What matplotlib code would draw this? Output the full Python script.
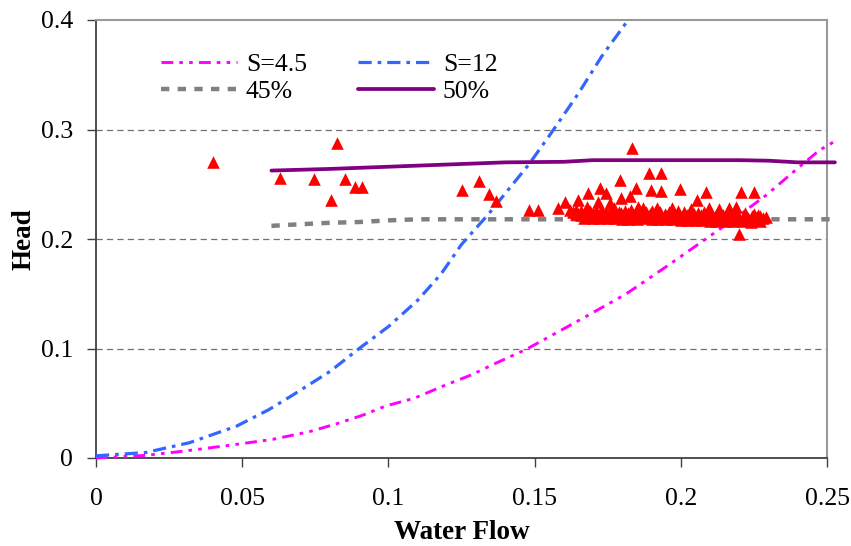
import matplotlib
matplotlib.use("Agg")
import matplotlib.pyplot as plt

plt.rcParams['font.family'] = ['Liberation Serif', 'DejaVu Serif']
plt.rcParams['lines.scale_dashes'] = False

# ---------------- data ----------------
x_ticks = [0, 0.05, 0.1, 0.15, 0.2, 0.25]
x_tick_labels = ['0', '0.05', '0.1', '0.15', '0.2', '0.25']
y_ticks = [0, 0.1, 0.2, 0.3, 0.4]
y_tick_labels = ['0', '0.1', '0.2', '0.3', '0.4']

s45_x = [0.0, 0.017, 0.0285, 0.0376, 0.049, 0.0604, 0.0729, 0.082, 0.0911, 0.0991,
         0.1088, 0.1196, 0.128, 0.1367, 0.1472, 0.1665, 0.1814, 0.195, 0.2064,
         0.2178, 0.2292, 0.2406, 0.2474, 0.2525]
s45_y = [0.0, 0.0024, 0.0058, 0.0088, 0.0128, 0.017, 0.024, 0.031, 0.039, 0.0475,
         0.0545, 0.0667, 0.0755, 0.0865, 0.0993, 0.1276, 0.150, 0.1747, 0.196,
         0.2174, 0.240, 0.266, 0.281, 0.289]

s12_x = [0.0, 0.017, 0.032, 0.048, 0.059, 0.067, 0.080, 0.090, 0.100, 0.110, 0.118,
         0.125, 0.134, 0.148, 0.156, 0.165, 0.173, 0.182, 0.190]
s12_y = [0.002, 0.005, 0.014, 0.029, 0.044, 0.057, 0.079, 0.100, 0.120, 0.144, 0.168,
         0.195, 0.222, 0.268, 0.298, 0.333, 0.367, 0.400, 0.432]

p45_x = [0.060, 0.070, 0.080, 0.090, 0.100, 0.110, 0.130, 0.150, 0.170, 0.190, 0.210, 0.230, 0.2515]
p45_y = [0.212, 0.2135, 0.2148, 0.2155, 0.217, 0.218, 0.218, 0.218, 0.218, 0.218, 0.218, 0.218, 0.218]

p50_x = [0.060, 0.080, 0.100, 0.120, 0.140, 0.160, 0.170, 0.180, 0.200, 0.220, 0.230, 0.240, 0.2527]
p50_y = [0.2625, 0.264, 0.266, 0.268, 0.270, 0.2705, 0.272, 0.272, 0.272, 0.272, 0.2715, 0.270, 0.270]

# measured points (red triangles)
meas_x = [0.0399, 0.0629, 0.0745, 0.0823, 0.0851, 0.0802, 0.0885, 0.0910, 0.1253, 0.1310,
          0.1344, 0.1367, 0.1481, 0.1512, 0.1580, 0.1603, 0.1643, 0.1648, 0.1683, 0.1722,
          0.1717, 0.1745, 0.1757, 0.1791, 0.1797, 0.1825, 0.1833, 0.1848, 0.1853, 0.1891,
          0.1933, 0.1897, 0.1933, 0.1996, 0.2054, 0.2085, 0.2190, 0.2199, 0.2207, 0.2249,
          0.2264, 0.2292,
          # dense band, upper row
          0.162, 0.164, 0.166, 0.169, 0.171, 0.173, 0.176, 0.179, 0.181, 0.183, 0.186, 0.188,
          0.190, 0.193, 0.196, 0.199, 0.201, 0.203, 0.206, 0.208, 0.210, 0.213, 0.216,
          0.219, 0.222, 0.225,
          # dense band, second row
          0.163, 0.1655, 0.1675, 0.170, 0.1725, 0.1745, 0.177, 0.1795, 0.182, 0.1845, 0.187,
          0.1895, 0.192, 0.1945, 0.197, 0.1995, 0.202, 0.2045, 0.207, 0.2095, 0.212, 0.2145,
          0.217, 0.2195, 0.222, 0.2245, 0.227,
          # dense band, middle row
          0.164, 0.166, 0.168, 0.171, 0.173, 0.175, 0.178, 0.181, 0.183, 0.185, 0.188, 0.191,
          0.193, 0.195, 0.198, 0.201, 0.204, 0.206, 0.208, 0.211, 0.214, 0.217, 0.220,
          0.223, 0.226, 0.228,
          # dense band, lower row
          0.167, 0.170, 0.172, 0.175, 0.177, 0.180, 0.182, 0.185, 0.187, 0.190, 0.192, 0.195,
          0.197, 0.200, 0.202, 0.205, 0.207, 0.210, 0.212, 0.215, 0.218, 0.221, 0.224, 0.227,
          # a few just above the band
          0.187, 0.192, 0.197, 0.2035, 0.2095, 0.213, 0.2165, 0.168, 0.177]
meas_y = [0.270, 0.256, 0.2545, 0.2874, 0.2548, 0.2356, 0.2472, 0.2472, 0.2447, 0.2530,
          0.2410, 0.2350, 0.2265, 0.2265, 0.2280, 0.2340, 0.2250, 0.2356, 0.2417, 0.2470,
          0.2340, 0.2417, 0.2330, 0.2540, 0.2370, 0.2390, 0.2828, 0.2470, 0.2295, 0.2600,
          0.2600, 0.2450, 0.2435, 0.2457, 0.2356, 0.2432, 0.2295, 0.2046, 0.2432, 0.2432,
          0.2220, 0.2200,
          0.2265, 0.2262, 0.2260, 0.2255, 0.2258, 0.2260, 0.2258, 0.2250, 0.2255, 0.2262,
          0.2255, 0.2250, 0.2258, 0.2250, 0.2245, 0.2252, 0.2247, 0.2248, 0.2240, 0.2243,
          0.2245, 0.2238, 0.2242, 0.2235, 0.2238, 0.2230,
          0.2243, 0.2240, 0.2242, 0.2238, 0.2240, 0.2236, 0.2238, 0.2233, 0.2236, 0.2232,
          0.2234, 0.2230, 0.2231, 0.2228, 0.2226, 0.2228, 0.2223, 0.2225, 0.2220, 0.2222,
          0.2218, 0.2216, 0.2218, 0.2213, 0.2214, 0.2210, 0.2208,
          0.2225, 0.2222, 0.2220, 0.2228, 0.2224, 0.2220, 0.2222, 0.2215, 0.2218, 0.2220,
          0.2212, 0.2218, 0.2213, 0.2210, 0.2205, 0.2212, 0.2205, 0.2203, 0.2200, 0.2202,
          0.2195, 0.2198, 0.2190, 0.2195, 0.2188, 0.2195,
          0.2195, 0.2192, 0.2190, 0.2193, 0.2192, 0.2186, 0.2185, 0.2187, 0.2188, 0.2182,
          0.2180, 0.2181, 0.2182, 0.2177, 0.2175, 0.2174, 0.2172, 0.2168, 0.2165, 0.2168,
          0.2160, 0.2162, 0.2158, 0.2162,
          0.2285, 0.2280, 0.2280, 0.2275, 0.2280, 0.2275, 0.2285, 0.2290, 0.2285]

# ---------------- figure ----------------
W, H = 851, 546
fig = plt.figure(figsize=(W / 100, H / 100), dpi=100)
L, R, T, B = 96, 827, 20, 458
ax = fig.add_axes([L / W, (H - B) / H, (R - L) / W, (B - T) / H])

ax.set_xlim(0, 0.25)
ax.set_ylim(0, 0.4)

# grid
for yv in y_ticks[1:-1]:
    ax.axhline(yv, color='#707070', lw=0.9, linestyle=(0, (4.5, 3.0)), zorder=1)

ax.plot(s45_x, s45_y, color='#FF00FF', lw=2.1,
        linestyle=(0, (8.5, 4.3, 2.6, 4.5, 2.6, 4.5)), clip_on=False, zorder=3,
        label='S=4.5')
ax.plot(p45_x, p45_y, color='#808080', lw=3.2,
        linestyle=(0, (6.0, 6.0)), clip_on=False, zorder=3, label='45%')
ax.plot(s12_x, s12_y, color='#3366FF', lw=2.3,
        linestyle=(0, (9.5, 4.3, 2.6, 4.3)), zorder=3, label='S=12')
ax.plot(p50_x, p50_y, color='#800080', lw=2.7, solid_capstyle='round',
        clip_on=False, zorder=3, label='50%')

ax.scatter(meas_x, meas_y, marker='^', s=82, color='#FF0000', linewidths=0,
           zorder=4, clip_on=False)

# spines
for s in ['left', 'bottom']:
    ax.spines[s].set_color('#404040')
    ax.spines[s].set_linewidth(1.3)
for s in ['top', 'right']:
    ax.spines[s].set_color('#999999')
    ax.spines[s].set_linewidth(1.5)

ax.set_xticks(x_ticks)
ax.set_xticklabels(x_tick_labels)
ax.set_yticks(y_ticks)
ax.set_yticklabels(y_tick_labels)
ax.tick_params(axis='both', direction='out', length=6.5, width=1.0, color='#404040',
               labelsize=18.5, labelcolor='black')
ax.tick_params(axis='x', pad=15)
ax.tick_params(axis='y', pad=10)

ax.set_xlabel('Water Flow', fontsize=19.5, fontweight='bold', labelpad=7)
ax.set_ylabel('Head', fontsize=19.5, fontweight='bold', labelpad=3)

leg = ax.legend(ncol=2, frameon=False, fontsize=18.5, loc='upper left',
                bbox_to_anchor=(161 / W, 1 - 53 / H), bbox_transform=fig.transFigure,
                borderpad=0, borderaxespad=0, handlelength=2.95, handletextpad=0.35,
                columnspacing=2.0, labelspacing=0.15)

fig.savefig('out.png', dpi=100)
